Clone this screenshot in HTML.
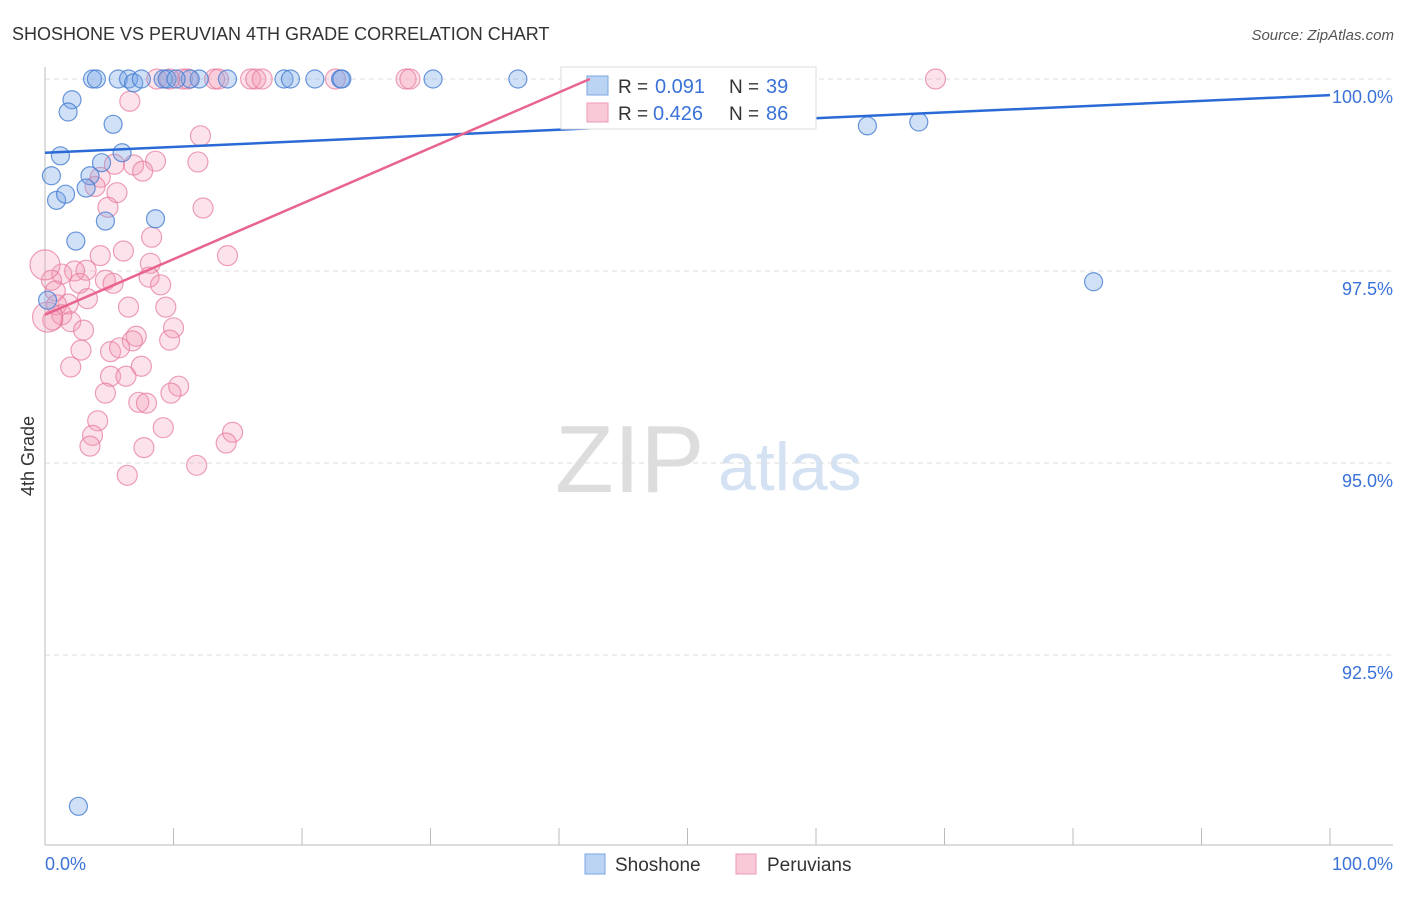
<!DOCTYPE html>
<html><head><meta charset="utf-8"><style>
body{margin:0;background:#fff;font-family:"Liberation Sans",sans-serif}
svg text{font-family:"Liberation Sans",sans-serif}
</style></head><body>
<svg id="c" width="1406" height="892" xmlns="http://www.w3.org/2000/svg">
<text x="12" y="40" font-size="18" fill="#333">SHOSHONE VS PERUVIAN 4TH GRADE CORRELATION CHART</text>
<text x="1394" y="40" font-size="15" fill="#555" text-anchor="end" font-style="italic">Source: ZipAtlas.com</text>
<text transform="translate(34,456) rotate(-90)" font-size="18" fill="#333" text-anchor="middle">4th Grade</text>
<text x="555" y="492" font-size="96" fill="#ddd" font-family="Liberation Serif">ZIP</text>
<text x="718" y="490" font-size="68" fill="#d4e2f4">atlas</text>
<g id="grid"></g><g id="axes"></g><g id="pts"></g><g id="trend"></g>
<g>
<rect x="561" y="67" width="255" height="62" fill="#fff" stroke="#ddd"/>
<rect x="587" y="76" width="21" height="19" fill="#bcd4f4" stroke="#7aa6e0"/>
<text x="618" y="93" font-size="19" fill="#333">R =</text>
<text x="655" y="93" font-size="20" fill="#3a72d8">0.091</text>
<text x="729" y="93" font-size="19" fill="#333">N =</text>
<text x="766" y="93" font-size="20" fill="#3a72d8">39</text>
<rect x="587" y="103" width="21" height="19" fill="#f9c9d7" stroke="#ef9ab4"/>
<text x="618" y="120" font-size="19" fill="#333">R =</text>
<text x="653" y="120" font-size="20" fill="#3a72d8">0.426</text>
<text x="729" y="120" font-size="19" fill="#333">N =</text>
<text x="766" y="120" font-size="20" fill="#3a72d8">86</text>
</g>
<g id="trend2"></g>
<g>
<rect x="585" y="854" width="20" height="20" fill="#bcd4f4" stroke="#7aa6e0"/>
<text x="615" y="871" font-size="19" fill="#333">Shoshone</text>
<rect x="736" y="854" width="20" height="20" fill="#f9c9d7" stroke="#ef9ab4"/>
<text x="767" y="871" font-size="19" fill="#333">Peruvians</text>
</g>
</svg>
<script>
const yTicks=[92.5,95,97.5,100];
const yTickLabels=["92.5%","95.0%","97.5%","100.0%"];
const xTickLabels=["0.0%","100.0%"];
const shoX=[3.7,4.0,5.7,6.5,6.9,7.5,9.2,9.5,12.0,14.2,18.6,19.1,21.0,23.0,23.1,30.2,36.8,11.3,10.2,2.1,1.8,5.3,1.2,0.5,4.4,6.0,3.5,3.2,0.9,1.6,4.7,8.6,2.4,0.2,2.6,64.0,68.0,81.6];
const shoY=[100,100,100,100,99.95,100,100,100,100,100,100,100,100,100,100,100,100,100,100,99.73,99.57,99.41,99.0,98.74,98.91,99.04,98.74,98.58,98.42,98.5,98.15,98.18,97.89,97.12,90.53,99.39,99.44,97.36];
const peruX=[8.7,10.7,11.1,13.2,13.5,16.0,16.4,16.9,22.6,28.1,28.4,69.3,9.7,6.6,12.1,11.9,5.4,6.9,8.6,7.6,4.3,3.9,5.6,4.9,12.3,8.3,6.1,14.2,4.3,8.2,3.2,2.3,1.3,0.5,4.7,8.1,9.0,2.7,5.3,3.3,0.8,1.8,0.9,6.5,9.4,1.3,2.0,0.6,3.0,10.0,7.1,6.8,9.7,5.1,2.8,5.8,2.0,7.5,5.1,6.3,10.4,9.8,4.7,7.3,7.9,4.1,3.7,3.5,9.2,14.6,14.1,7.7,11.8,6.4,0.0,0.2];
const peruY=[100,100,100,100,100,100,100,100,100,100,100,100,100,99.71,99.26,98.92,98.89,98.88,98.93,98.8,98.72,98.6,98.52,98.33,98.32,97.94,97.76,97.7,97.7,97.6,97.51,97.5,97.46,97.38,97.38,97.42,97.32,97.34,97.34,97.14,97.24,97.07,97.06,97.03,97.03,96.93,96.84,96.86,96.73,96.76,96.65,96.59,96.6,96.45,96.47,96.5,96.25,96.26,96.13,96.13,96.0,95.91,95.91,95.79,95.78,95.55,95.36,95.22,95.46,95.4,95.26,95.2,94.97,94.84,97.58,96.9];
const shoTrend=[99.04,99.79];
const peruTrend=[96.93,104.17];
const NS="http://www.w3.org/2000/svg";
const X=v=>45+v*12.85, Y=v=>79+(100-v)*76.8;
function mk(p,t,a){const e=document.createElementNS(NS,t);for(const k in a)e.setAttribute(k,a[k]);document.getElementById(p).appendChild(e);return e;}
yTicks.forEach((t,i)=>{
 const l=mk('grid','line',{x1:45,x2:1393,y1:Y(t),y2:Y(t),stroke:'#ddd','stroke-dasharray':'5,4'});
 
 
 const tx=mk('grid','text',{x:1393,y:Y(t)+24,'font-size':18,fill:'#3a72d8','text-anchor':'end'});
 tx.textContent=yTickLabels[i];
 
 
});
const ax=mk('axes','line',{x1:45,x2:45,y1:67,y2:845,stroke:'#bbb'});


const bx=mk('axes','line',{x1:45,x2:1393,y1:845,y2:845,stroke:'#bbb'});


for(let i=0;i<=10;i++){const t=mk('axes','line',{x1:X(i*10),x2:X(i*10),y1:828,y2:845,stroke:'#bbb'});
 
 }
[[0,'start',45],[1,'end',1393]].forEach(([i,a,x])=>{const t=mk('axes','text',{x:x,y:870,'font-size':18,fill:'#3a72d8','text-anchor':a});t.textContent=xTickLabels[i];
 
 });
peruX.forEach((v,i)=>{const r=(i>=74)?15:10;const c=mk('pts','circle',{cx:X(v),cy:Y(peruY[i]),r:r,fill:'rgba(244,150,178,0.28)',stroke:'rgba(230,120,155,0.7)','stroke-width':1.2});
 
 });
shoX.forEach((v,i)=>{const c=mk('pts','circle',{cx:X(v),cy:Y(shoY[i]),r:9,fill:'rgba(120,165,230,0.35)',stroke:'rgba(70,125,210,0.8)','stroke-width':1.2});
 
 });
const t1=mk('trend','line',{x1:X(0),y1:Y(shoTrend[0]),x2:X(100),y2:Y(shoTrend[1]),stroke:'#2a6ad6','stroke-width':2.5});


const xe=100*(100-peruTrend[0])/(peruTrend[1]-peruTrend[0]);
const t2=mk('trend2','line',{x1:X(0),y1:Y(peruTrend[0]),x2:X(xe),y2:Y(100),stroke:'#e8648e','stroke-width':2.5});


</script>
</body></html>
